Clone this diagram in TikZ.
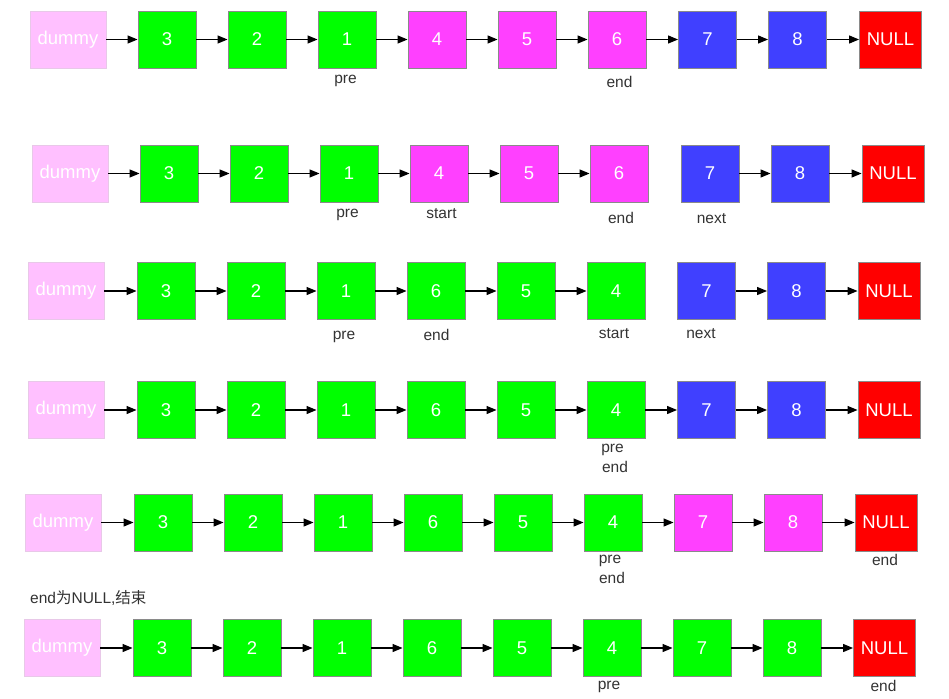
\documentclass[tikz,border=0pt]{standalone}
\usepackage{fontspec}
\setmainfont{Liberation Sans}
\newfontfamily\cjk{Noto Sans CJK SC}
\usetikzlibrary{arrows.meta}
\definecolor{cgreen}{HTML}{00FF00}
\definecolor{cmag}{HTML}{FF40FF}
\definecolor{cblue}{HTML}{4040FF}
\definecolor{cred}{HTML}{FF0000}
\definecolor{cdummy}{HTML}{FFC0FF}
\definecolor{cdummyb}{HTML}{E8C8E8}
\definecolor{cbord}{HTML}{8A8A8A}
\definecolor{ctext}{HTML}{333333}
\tikzset{
  box/.style={draw=cbord, line width=0.9pt, minimum width=58pt, minimum height=57pt,
    inner sep=0pt, text=white, font=\fontsize{18.5}{18.5}\selectfont},
  gbox/.style={box, fill=cgreen},
  mbox/.style={box, fill=cmag},
  bbox/.style={box, fill=cblue},
  nbox/.style={box, fill=cred, minimum width=62pt},
  dbox/.style={box, fill=cdummy, draw=cdummyb, minimum width=76pt},
  lbl/.style={text=ctext, font=\fontsize{15.5}{15.5}\selectfont, inner sep=0pt, anchor=base},
  link/.style={line width=1.2pt, -{Triangle[length=10pt,width=8pt]}},
}
\begin{document}
\begin{tikzpicture}[x=1pt,y=-1pt]
\useasboundingbox (0,0) rectangle (949,698);
% Row 1
\node[dbox] (r1d) at (68,39.5) {dummy};
\node[gbox] (r1a) at (167,39.5) {3};
\node[gbox] (r1b) at (257,39.5) {2};
\node[gbox] (r1c) at (347,39.5) {1};
\node[mbox] (r1e) at (437,39.5) {4};
\node[mbox] (r1f) at (527,39.5) {5};
\node[mbox] (r1g) at (617,39.5) {6};
\node[bbox] (r1h) at (707.5,39.5) {7};
\node[bbox] (r1i) at (797.5,39.5) {8};
\node[nbox] (r1n) at (890.5,39.5) {NULL};
\foreach \p/\q in {d/a,a/b,b/c,c/e,e/f,f/g,g/h,h/i,i/n} \draw[link] (r1\p) -- (r1\q);
\node[lbl] (r1pre) at (345.5,84) {pre};
\node[lbl] (r1end) at (619.5,88) {end};
% Row 2
\node[dbox] (r2d) at (70,173.5) {dummy};
\node[gbox] (r2a) at (169,173.5) {3};
\node[gbox] (r2b) at (259,173.5) {2};
\node[gbox] (r2c) at (349,173.5) {1};
\node[mbox] (r2e) at (439,173.5) {4};
\node[mbox] (r2f) at (529,173.5) {5};
\node[mbox] (r2g) at (619,173.5) {6};
\node[bbox] (r2h) at (710,173.5) {7};
\node[bbox] (r2i) at (800,173.5) {8};
\node[nbox] (r2n) at (893,173.5) {NULL};
\foreach \p/\q in {d/a,a/b,b/c,c/e,e/f,f/g,h/i,i/n} \draw[link] (r2\p) -- (r2\q);
\node[lbl] (r2pre) at (347.5,217) {pre};
\node[lbl] (r2start) at (441.5,218) {start};
\node[lbl] (r2end) at (621,223) {end};
\node[lbl] (r2next) at (711.5,223) {next};
% Row 3
\node[dbox] (r3d) at (66,291) {dummy};
\node[gbox] (r3a) at (166,291) {3};
\node[gbox] (r3b) at (256,291) {2};
\node[gbox] (r3c) at (346,291) {1};
\node[gbox] (r3e) at (436,291) {6};
\node[gbox] (r3f) at (526,291) {5};
\node[gbox] (r3g) at (616,291) {4};
\node[bbox] (r3h) at (706.5,291) {7};
\node[bbox] (r3i) at (796.5,291) {8};
\node[nbox] (r3n) at (889,291) {NULL};
\foreach \p/\q in {d/a,a/b,b/c,c/e,e/f,f/g,h/i,i/n} \draw[link] (r3\p) -- (r3\q);
\node[lbl] (r3pre) at (344,339) {pre};
\node[lbl] (r3end) at (436.5,340.5) {end};
\node[lbl] (r3start) at (614,338) {start};
\node[lbl] (r3next) at (701,338) {next};
% Row 4
\node[dbox] (r4d) at (66,410) {dummy};
\node[gbox] (r4a) at (166,410) {3};
\node[gbox] (r4b) at (256,410) {2};
\node[gbox] (r4c) at (346,410) {1};
\node[gbox] (r4e) at (436,410) {6};
\node[gbox] (r4f) at (526,410) {5};
\node[gbox] (r4g) at (616,410) {4};
\node[bbox] (r4h) at (706.5,410) {7};
\node[bbox] (r4i) at (796.5,410) {8};
\node[nbox] (r4n) at (889,410) {NULL};
\foreach \p/\q in {d/a,a/b,b/c,c/e,e/f,f/g,g/h,h/i,i/n} \draw[link] (r4\p) -- (r4\q);
\node[lbl] (r4pre) at (612.5,452) {pre};
\node[lbl] (r4end) at (615,472) {end};
% Row 5
\node[dbox] (r5d) at (63,522.5) {dummy};
\node[gbox] (r5a) at (163,522.5) {3};
\node[gbox] (r5b) at (253,522.5) {2};
\node[gbox] (r5c) at (343,522.5) {1};
\node[gbox] (r5e) at (433,522.5) {6};
\node[gbox] (r5f) at (523,522.5) {5};
\node[gbox] (r5g) at (613,522.5) {4};
\node[mbox] (r5h) at (703,522.5) {7};
\node[mbox] (r5i) at (793,522.5) {8};
\node[nbox] (r5n) at (886,522.5) {NULL};
\foreach \p/\q in {d/a,a/b,b/c,c/e,e/f,f/g,g/h,h/i,i/n} \draw[link] (r5\p) -- (r5\q);
\node[lbl] (r5pre) at (610,563.5) {pre};
\node[lbl] (r5end) at (612,583.5) {end};
\node[lbl] (r5endn) at (885,565) {end};
% note
\node[lbl, anchor=base west] (note) at (30,603) {end{\cjk 为}NULL,{\cjk 结束}};
% Row 6
\node[dbox] (r6d) at (62,648) {dummy};
\node[gbox] (r6a) at (162,648) {3};
\node[gbox] (r6b) at (252,648) {2};
\node[gbox] (r6c) at (342,648) {1};
\node[gbox] (r6e) at (432,648) {6};
\node[gbox] (r6f) at (522,648) {5};
\node[gbox] (r6g) at (612,648) {4};
\node[gbox] (r6h) at (702,648) {7};
\node[gbox] (r6i) at (792,648) {8};
\node[nbox] (r6n) at (884.5,648) {NULL};
\foreach \p/\q in {d/a,a/b,b/c,c/e,e/f,f/g,g/h,h/i,i/n} \draw[link] (r6\p) -- (r6\q);
\node[lbl] (r6pre) at (609,689.5) {pre};
\node[lbl] (r6end) at (883.5,691.5) {end};
\end{tikzpicture}
\end{document}
